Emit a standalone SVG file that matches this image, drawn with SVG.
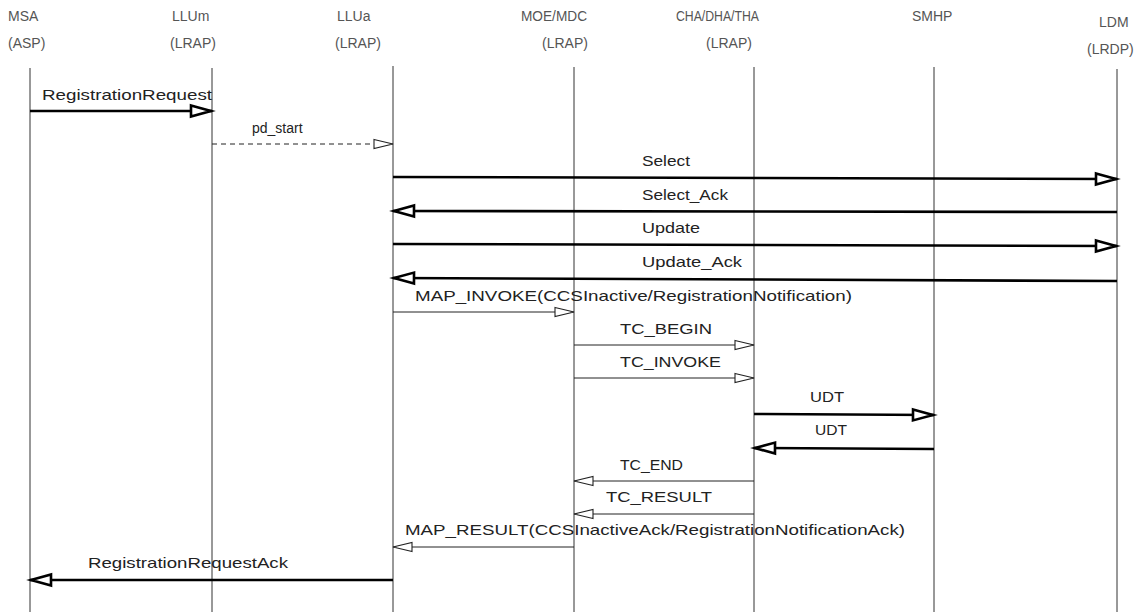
<svg xmlns="http://www.w3.org/2000/svg" width="1148" height="612" viewBox="0 0 1148 612">
<style>
  .hdr { font-family: "Liberation Sans", Arial, sans-serif; font-size: 14px; fill: #555; }
  .lbl { font-family: "Liberation Sans", Arial, sans-serif; font-size: 15px; fill: #222; }
  .life { stroke: #333; stroke-width: 1; fill: none; }
  .thick { stroke: #000; stroke-width: 2.6; fill: none; marker-end: url(#hThick); }
  .thin { stroke: #222; stroke-width: 1; fill: none; marker-end: url(#hThin); }
  .dash { stroke-dasharray: 5 4; }
</style>
<defs>
  <marker id="hThick" markerUnits="userSpaceOnUse" markerWidth="28" markerHeight="18" refX="24" refY="9" orient="auto">
    <path d="M3,3.5 L23,9 L3,14.5 Z" fill="#fff" stroke="#000" stroke-width="2.6" stroke-linejoin="miter"/>
  </marker>
  <marker id="hThin" markerUnits="userSpaceOnUse" markerWidth="24" markerHeight="14" refX="21" refY="7" orient="auto">
    <path d="M2,2.5 L21,7 L2,11.5 Z" fill="#fff" stroke="#222" stroke-width="1.1"/>
  </marker>
</defs>
<rect width="1148" height="612" fill="#fff"/>

<g id="node-msa">
  <text class="hdr" x="8" y="21">MSA</text>
  <text class="hdr" x="8" y="48">(ASP)</text>
  <line class="life" x1="30" y1="68" x2="30" y2="612"/>
</g>
<g id="node-llum">
  <text class="hdr" x="172" y="21">LLUm</text>
  <text class="hdr" x="170" y="48">(LRAP)</text>
  <line class="life" x1="212" y1="68" x2="212" y2="612"/>
</g>
<g id="node-llua">
  <text class="hdr" x="337" y="21">LLUa</text>
  <text class="hdr" x="335" y="48">(LRAP)</text>
  <line class="life" x1="393" y1="66" x2="393" y2="612"/>
</g>
<g id="node-moe">
  <text class="hdr" x="521" y="21" textLength="66" lengthAdjust="spacingAndGlyphs">MOE/MDC</text>
  <text class="hdr" x="542" y="48">(LRAP)</text>
  <line class="life" x1="574" y1="67" x2="574" y2="612"/>
</g>
<g id="node-cha">
  <text class="hdr" x="676" y="21" textLength="83" lengthAdjust="spacingAndGlyphs">CHA/DHA/THA</text>
  <text class="hdr" x="706" y="48">(LRAP)</text>
  <line class="life" x1="754" y1="67" x2="754" y2="612"/>
</g>
<g id="node-smhp">
  <text class="hdr" x="912" y="21">SMHP</text>
  <line class="life" x1="934" y1="67" x2="934" y2="612"/>
</g>
<g id="node-ldm">
  <text class="hdr" x="1099" y="27">LDM</text>
  <text class="hdr" x="1087" y="54">(LRDP)</text>
  <line class="life" x1="1117" y1="69" x2="1117" y2="612"/>
</g>

<g id="connectors">
  <line class="thick" x1="30" y1="111" x2="212" y2="111"/>
  <text class="lbl" x="42" y="100" textLength="170" lengthAdjust="spacingAndGlyphs">RegistrationRequest</text>

  <line class="thin dash" x1="212" y1="144" x2="393" y2="144"/>
  <text class="lbl" x="252" y="133" style="font-size:14px">pd_start</text>

  <line class="thick" x1="393" y1="177" x2="1117" y2="179"/>
  <text class="lbl" x="642" y="166" textLength="48" lengthAdjust="spacingAndGlyphs">Select</text>

  <line class="thick" x1="1117" y1="212" x2="393" y2="211"/>
  <text class="lbl" x="642" y="200" textLength="86" lengthAdjust="spacingAndGlyphs">Select_Ack</text>

  <line class="thick" x1="393" y1="244" x2="1117" y2="246"/>
  <text class="lbl" x="642" y="233" textLength="58" lengthAdjust="spacingAndGlyphs">Update</text>

  <line class="thick" x1="1117" y1="281" x2="393" y2="278"/>
  <text class="lbl" x="642" y="267" textLength="100" lengthAdjust="spacingAndGlyphs">Update_Ack</text>

  <line class="thin" x1="393" y1="312" x2="574" y2="312"/>
  <text class="lbl" x="415" y="301" textLength="437" lengthAdjust="spacingAndGlyphs">MAP_INVOKE(CCSInactive/RegistrationNotification)</text>

  <line class="thin" x1="574" y1="345" x2="754" y2="345"/>
  <text class="lbl" x="620" y="334" textLength="92" lengthAdjust="spacingAndGlyphs">TC_BEGIN</text>

  <line class="thin" x1="574" y1="378" x2="754" y2="378"/>
  <text class="lbl" x="620" y="367" textLength="101" lengthAdjust="spacingAndGlyphs">TC_INVOKE</text>

  <line class="thick" x1="754" y1="414" x2="934" y2="415"/>
  <text class="lbl" x="810" y="402" textLength="34" lengthAdjust="spacingAndGlyphs">UDT</text>

  <line class="thick" x1="934" y1="449" x2="754" y2="448"/>
  <text class="lbl" x="815" y="435" textLength="32" lengthAdjust="spacingAndGlyphs">UDT</text>

  <line class="thin" x1="754" y1="481" x2="574" y2="481"/>
  <text class="lbl" x="620" y="470" textLength="63" lengthAdjust="spacingAndGlyphs">TC_END</text>

  <line class="thin" x1="754" y1="514" x2="574" y2="514"/>
  <text class="lbl" x="606" y="502" textLength="106" lengthAdjust="spacingAndGlyphs">TC_RESULT</text>

  <line class="thin" x1="574" y1="547" x2="393" y2="547"/>
  <text class="lbl" x="405" y="535" textLength="500" lengthAdjust="spacingAndGlyphs">MAP_RESULT(CCSInactiveAck/RegistrationNotificationAck)</text>

  <line class="thick" x1="393" y1="580" x2="30" y2="580"/>
  <text class="lbl" x="88" y="568" textLength="200" lengthAdjust="spacingAndGlyphs">RegistrationRequestAck</text>
</g>
</svg>
